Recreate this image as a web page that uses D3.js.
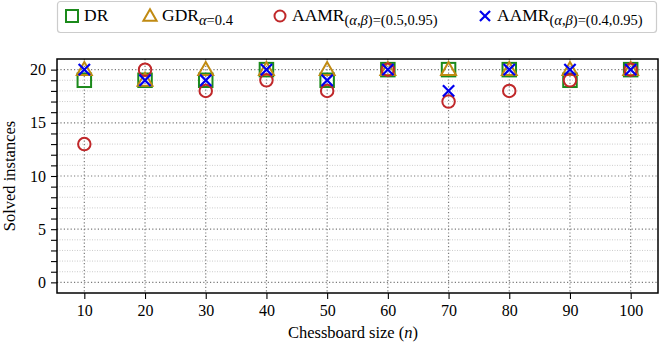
<!DOCTYPE html>
<html><head><meta charset="utf-8">
<script src="https://cdn.jsdelivr.net/npm/d3@7"></script>
<style>body{margin:0;background:#fff}svg{display:block}text{font-family:"Liberation Serif","DejaVu Serif",serif}</style>
</head><body>
<svg id="c" width="665" height="343"></svg>
<script>
const sizes = [10,20,30,40,50,60,70,80,90,100];
const dr      = [19,19,19,20,19,20,20,20,19,20];
const gdr     = [20,19,20,20,20,20,20,20,20,20];
const aamr05  = [13,20,18,19,18,20,17,18,19,20];
const aamr04  = [20,19,19,20,19,20,18,20,20,20];
const yMajorTicks = [0,5,10,15,20];
const yMinorTicks = d3.range(0,21);

const series = [
  {name:"DR", sub:null, vals:dr, shape:"square", color:"#1b8a1b"},
  {name:"GDR", sub:[["α","i"],["=0.4","n"]], vals:gdr, shape:"triangle", color:"#c08a12"},
  {name:"AAMR", sub:[["(","n"],["α","i"],[",","n"],["β","i"],[")=(0.5,0.95)","n"]], vals:aamr05, shape:"circle", color:"#c0282a"},
  {name:"AAMR", sub:[["(","n"],["α","i"],[",","n"],["β","i"],[")=(0.4,0.95)","n"]], vals:aamr04, shape:"x", color:"#0000ee"}
];

const svg = d3.select("#c");
const L=57, R=658, T=59, B=293;
const x = d3.scaleLinear().domain([5.5,104.5]).range([L,R]);
const y = d3.scaleLinear().domain([-1,21]).range([B,T]);

// grid
const g = svg.append("g");
g.selectAll(".ymin").data(yMinorTicks.filter(v=>v%5!==0)).join("line")
  .attr("x1",L).attr("x2",R).attr("y1",d=>y(d)).attr("y2",d=>y(d))
  .attr("stroke","#aaa").attr("stroke-width",0.6).attr("stroke-dasharray","1,1.5");
g.selectAll(".ymaj").data(yMajorTicks).join("line")
  .attr("x1",L).attr("x2",R).attr("y1",d=>y(d)).attr("y2",d=>y(d))
  .attr("stroke","#7a7a7a").attr("stroke-width",1.2).attr("stroke-dasharray","1.2,2.2");
g.selectAll(".xg").data(sizes).join("line")
  .attr("y1",T).attr("y2",B).attr("x1",d=>x(d)).attr("x2",d=>x(d))
  .attr("stroke","#7a7a7a").attr("stroke-width",1.2).attr("stroke-dasharray","1.2,2.2");

// axes
const xa = svg.append("g").attr("transform",`translate(0,${B})`)
  .call(d3.axisBottom(x).tickValues(sizes).tickSize(6).tickPadding(6));
const ya = svg.append("g").attr("transform",`translate(${L},0)`)
  .call(d3.axisLeft(y).tickValues(yMajorTicks).tickSize(6).tickPadding(5));
svg.append("g").attr("transform",`translate(${L},0)`)
  .call(d3.axisLeft(y).tickValues(yMinorTicks.filter(v=>v%5!==0)).tickSize(6).tickFormat(""));
svg.selectAll(".domain").remove();
svg.selectAll(".tick line").attr("stroke","#000").attr("stroke-width",1.1);
svg.selectAll(".tick text").attr("font-size",16).attr("fill","#000")
  .style("font-family",'"Liberation Serif",serif');

// markers
function drawMarker(sel, shape, color, s){
  if(shape==="square") sel.append("rect").attr("x",-s/2).attr("y",-s/2).attr("width",s).attr("height",s)
     .attr("fill","none").attr("stroke",color).attr("stroke-width",2);
  else if(shape==="triangle"){ const h=s*0.9; sel.append("path").attr("d",`M0,${-h*0.62}L${s*0.55},${h*0.45}L${-s*0.55},${h*0.45}Z`)
     .attr("fill","none").attr("stroke",color).attr("stroke-width",2).attr("stroke-linejoin","miter");}
  else if(shape==="circle") sel.append("circle").attr("r",s/2-0.5).attr("fill","none").attr("stroke",color).attr("stroke-width",2);
  else { const a=s*0.42; sel.append("path").attr("d",`M${-a},${-a}L${a},${a}M${-a},${a}L${a},${-a}`)
     .attr("stroke",color).attr("stroke-width",2.2);}
}
series.forEach(sr=>{
  const gg = svg.append("g");
  sr.vals.forEach((v,i)=>{
    const m = gg.append("g").attr("transform",`translate(${x(sizes[i])},${y(v)})`);
    drawMarker(m, sr.shape, sr.color, 13.5);
  });
});

// frame
svg.append("rect").attr("x",L).attr("y",T).attr("width",R-L).attr("height",B-T)
  .attr("fill","none").attr("stroke","#000").attr("stroke-width",1.5);

// axis labels
svg.append("text").attr("x",353).attr("y",338).attr("text-anchor","middle").attr("font-size",16.5)
  .html('Chessboard size (<tspan font-style="italic">n</tspan>)');
svg.append("text").attr("transform",`translate(15,${(T+B)/2}) rotate(-90)`).attr("text-anchor","middle").attr("font-size",16.5)
  .text("Solved instances");

// legend
svg.append("rect").attr("x",57.5).attr("y",1.5).attr("width",599).attr("height",31).attr("rx",3)
  .attr("fill","#fff").attr("fill-opacity",0.9).attr("stroke","#ccc").attr("stroke-width",1.2);
const legX = [72,150,280,485];
series.forEach((sr,i)=>{
  const m = svg.append("g").attr("transform",`translate(${legX[i]},16)`);
  drawMarker(m, sr.shape, sr.color, 12);
  const t = svg.append("text").attr("x",legX[i]+12).attr("y",21).attr("font-size",17.5).attr("fill","#000");
  t.append("tspan").text(sr.name);
  if(sr.sub){
    sr.sub.forEach((p,j)=>{
      const ts = t.append("tspan").attr("font-size",14.5).text(p[0]);
      if(j===0) ts.attr("dy",3.5);
      if(p[1]==="i") ts.attr("font-style","italic");
    });
  }
});
</script>
</body></html>
